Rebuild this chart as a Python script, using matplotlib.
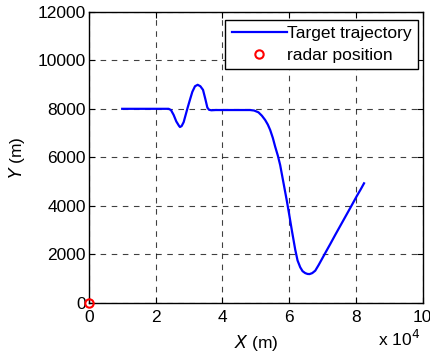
import matplotlib.pyplot as plt

plt.rcParams['font.family'] = ['Liberation Sans', 'DejaVu Sans']

# target trajectory (x in metres, y in metres)
traj_x = [10000, 15000, 20000, 23900, 24600, 25400, 26200, 27000, 27300, 27800,
          28400, 29000, 29600, 30300, 31000, 31800, 32600, 33400, 34200, 34900,
          35500, 36000, 36700, 38000, 42000, 46000, 48300, 49500, 50800, 51800,
          52800, 53600, 54300, 55100, 55800, 56600, 57300, 58300, 59300, 60000,
          60800, 61800, 62500, 63300, 64000, 64800, 65500, 66100, 66900, 67800,
          68800, 69800, 71000, 72300, 73800, 75300, 76800, 78300, 79300, 80300,
          81400, 82400]
traj_y = [8000, 8000, 8000, 8000, 7950, 7750, 7480, 7300, 7250, 7290,
          7450, 7750, 8050, 8380, 8700, 8930, 8990, 8930, 8780, 8400,
          8050, 7960, 7940, 7950, 7950, 7950, 7950, 7930, 7855, 7720,
          7540, 7350, 7130, 6800, 6440, 6070, 5680, 4940, 4200, 3645,
          2985, 2200, 1750, 1470, 1310, 1230, 1195, 1190, 1230, 1330,
          1560, 1810, 2110, 2430, 2810, 3180, 3550, 3920, 4170, 4420,
          4680, 4930]

radar_x = [0]
radar_y = [0]

fig = plt.figure(figsize=(4.31, 3.56), dpi=100)
ax = fig.add_axes([0.206, 0.149, 0.775, 0.818])

ax.plot(traj_x, traj_y, color='#0000ff', lw=1.6, label='Target trajectory')
ax.plot(radar_x, radar_y, 'o', mfc='none', mec='red', mew=1.5, ms=6,
        clip_on=False, zorder=5, label='radar position')

ax.set_xlim(0, 100000)
ax.set_ylim(0, 12000)
ax.set_xticks([0, 20000, 40000, 60000, 80000, 100000])
ax.set_xticklabels(['0', '2', '4', '6', '8', '10'])
ax.set_yticks([0, 2000, 4000, 6000, 8000, 10000, 12000])
ax.set_yticklabels(['0', '2000', '4000', '6000', '8000', '10000', '12000'])
ax.tick_params(direction='in', top=True, right=True, labelsize=12.5, length=4)
ax.tick_params(axis='x', pad=5)
ax.tick_params(axis='y', pad=2)
ax.grid(True, color='black', ls=(0, (5, 5)), lw=0.8, alpha=0.75)
for s in ax.spines.values():
    s.set_linewidth(1.0)

ax.set_xlabel('$\\mathit{X}$ (m)', fontsize=12.5, labelpad=6)
ax.set_ylabel('$\\mathit{Y}$ (m)', fontsize=12.5, labelpad=8)
fig.text(0.876, 0.02, 'x 10$^4$', fontsize=12.5, ha='left', va='bottom')

leg = ax.legend(loc='upper right', bbox_to_anchor=(0.985, 0.972), borderaxespad=0,
                fontsize=12.5, fancybox=False, framealpha=1, edgecolor='black',
                handlelength=3.2, handletextpad=0.0, borderpad=0.35,
                labelspacing=0.4)
leg.get_frame().set_linewidth(1.0)

fig.savefig('out.png', dpi=100)
